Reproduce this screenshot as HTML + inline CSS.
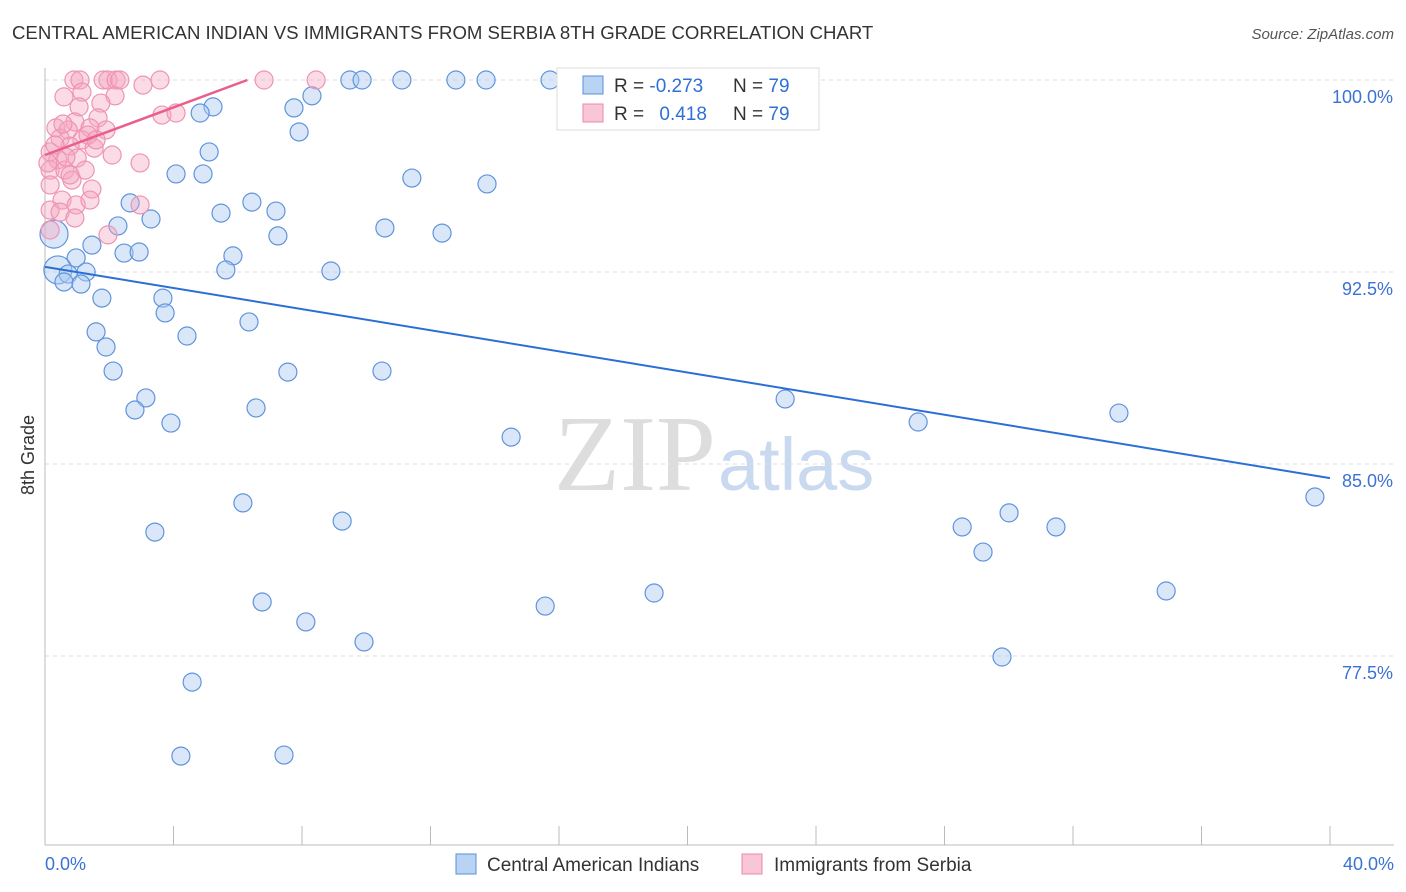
<!DOCTYPE html>
<html><head><meta charset="utf-8"><style>
body{margin:0;background:#fff;font-family:"Liberation Sans",sans-serif}
svg{display:block}
</style></head><body>
<svg id="chart" width="1406" height="892">
<text x="12" y="39" font-size="18.6" fill="#333">CENTRAL AMERICAN INDIAN VS IMMIGRANTS FROM SERBIA 8TH GRADE CORRELATION CHART</text>
<text x="1394" y="39" font-size="15" fill="#555" font-style="italic" text-anchor="end">Source: ZipAtlas.com</text>
<text x="716" y="490" font-size="108" fill="#ddd" font-family="Liberation Serif,serif" text-anchor="end">ZIP</text>
<text x="718" y="490" font-size="74" fill="#c9d9ef">atlas</text>
<text x="34" y="455" font-size="18" fill="#333" transform="rotate(-90 34 455)" text-anchor="middle">8th Grade</text>
<g id="grid"></g><g id="pts"></g><g id="lines"></g>
<g>
<rect x="557" y="68" width="262" height="62" fill="#fff" stroke="#ddd"/>
<rect x="583" y="76" width="20" height="18" fill="#b9d3f5" stroke="#5a8fd8"/>
<rect x="583" y="104" width="20" height="18" fill="#f9c6d6" stroke="#e88aa8"/>
<text x="614" y="92" font-size="19" fill="#333">R = <tspan fill="#2f6fd6">-0.273</tspan></text>
<text x="733" y="92" font-size="19" fill="#333">N = <tspan fill="#2f6fd6">79</tspan></text>
<text x="614" y="120" font-size="19" fill="#333">R = <tspan fill="#2f6fd6" dx="10">0.418</tspan></text>
<text x="733" y="120" font-size="19" fill="#333">N = <tspan fill="#2f6fd6">79</tspan></text>
</g>
<g>
<rect x="456" y="854" width="20" height="20" fill="#b9d3f5" stroke="#5a8fd8"/>
<text x="487" y="871" font-size="19" fill="#333">Central American Indians</text>
<rect x="742" y="854" width="20" height="20" fill="#f9c6d6" stroke="#e88aa8"/>
<text x="774" y="871" font-size="19" fill="#333">Immigrants from Serbia</text>
</g>
</svg>
<script>
const yTicks=[100,92.5,85,77.5];
const xTickLabels=["0.0%","40.0%"];
const blueX=[9.49,9.87,11.11,12.79,13.73,15.72,17.40,18.15,22.26,8.31,5.23,4.83,7.75,7.91,5.11,4.08,4.92,11.42,13.76,2.65,6.44,5.48,7.19,3.30,2.27,10.58,7.25,12.36,0.28,1.46,2.46,2.93,5.85,0.97,0.40,1.28,5.63,8.90,0.72,0.59,1.12,1.77,3.67,3.74,6.35,1.59,4.42,1.90,2.12,7.56,10.49,3.14,2.80,6.57,23.04,33.43,3.92,27.18,14.51,39.53,6.16,9.25,3.42,28.55,30.01,31.47,29.20,34.90,6.76,15.57,18.96,8.12,9.93,29.79,4.58,4.23,7.44];
const blueY=[100,100,100,100,100,100,100,100,100,99.38,98.95,98.71,98.91,97.97,97.19,96.33,96.33,96.17,95.94,95.20,95.23,94.80,94.88,94.57,94.30,94.22,93.91,94.02,93.98,93.55,93.24,93.28,93.13,93.05,92.58,92.50,92.58,92.54,92.42,92.11,92.03,91.48,91.48,90.90,90.55,90.16,90.00,89.57,88.63,88.59,88.63,87.58,87.11,87.19,87.54,86.99,86.60,86.64,86.05,83.71,83.48,82.77,82.34,82.54,83.09,82.54,81.56,80.04,79.61,79.45,79.96,78.83,78.05,77.46,76.48,73.59,73.63];
const pinkX=[0.90,1.09,1.81,1.96,2.21,2.33,3.58,6.82,8.44,3.05,1.15,2.18,0.59,1.74,1.06,3.64,4.08,0.93,1.65,0.34,0.72,1.40,1.90,0.47,1.15,0.78,1.53,2.09,0.16,0.40,1.00,2.96,0.16,0.62,1.25,0.84,0.16,1.46,0.53,0.97,1.40,2.96,0.16,0.47,0.93,1.96,0.16,0.09,0.31,0.65,1.34,0.56,0.78,1.59];
const pinkY=[100,100,100,100,100,100,100,100,100,99.80,99.53,99.38,99.34,99.10,98.95,98.63,98.71,98.36,98.52,98.13,98.05,98.13,98.05,97.73,97.66,97.42,97.34,97.07,97.19,96.88,96.95,96.76,96.48,96.48,96.48,96.09,95.90,95.74,95.31,95.12,95.31,95.12,94.92,94.84,94.61,93.95,94.14,96.76,97.46,96.99,97.85,98.28,96.29,97.66];
const blueTrend=[0,92.70,40,84.45];
const pinkTrend=[0,97.07,6.3,100];
const X=v=>45+v/40*1285, Y=v=>80+(100-v)/7.5*192;
const NS="http://www.w3.org/2000/svg";
function mk(tag,attrs,parent){const e=document.createElementNS(NS,tag);for(const k in attrs)e.setAttribute(k,attrs[k]);parent.appendChild(e);return e;}
const grid=document.getElementById('grid'),pts=document.getElementById('pts'),lines=document.getElementById('lines');
yTicks.forEach(t=>{
 const l=mk('line',{x1:45,x2:1394,y1:Y(t),y2:Y(t),stroke:'#ddd','stroke-dasharray':'4 4'},grid);
 
 
 const tx=mk('text',{x:1393,y:Y(t)+23,'font-size':18,fill:'#3a72d4','text-anchor':'end'},grid);
 tx.textContent=t.toFixed(1)+'%';
 
 
});
const ax=mk('line',{x1:45,x2:45,y1:68,y2:845,stroke:'#bbb'},grid);


const bx=mk('line',{x1:45,x2:1394,y1:845,y2:845,stroke:'#bbb'},grid);


for(let i=0;i<=10;i++){const t=mk('line',{x1:X(i*4),x2:X(i*4),y1:826,y2:845,stroke:'#bbb'},grid);
 
 }
[[0,'start',45],[40,'end',1394]].forEach((d,i)=>{const t=mk('text',{x:d[2],y:870,'font-size':18,fill:'#3a72d4','text-anchor':d[1]},grid);t.textContent=xTickLabels[i];
 
 });
blueX.forEach((v,i)=>{const big=(i===28||i===34);const c=mk('circle',{cx:X(v),cy:Y(blueY[i]),r:big?14:9,fill:'rgba(170,202,242,0.45)',stroke:'#6094dc','stroke-width':1.2},pts);
 
 });
pinkX.forEach((v,i)=>{const c=mk('circle',{cx:X(v),cy:Y(pinkY[i]),r:9,fill:'rgba(244,165,192,0.4)',stroke:'#ee94b2','stroke-width':1.2},pts);
 
 });
const bl=mk('line',{x1:X(blueTrend[0]),y1:Y(blueTrend[1]),x2:X(blueTrend[2]),y2:Y(blueTrend[3]),stroke:'#2a6fd6','stroke-width':2},lines);


const pl=mk('line',{x1:X(pinkTrend[0]),y1:Y(pinkTrend[1]),x2:X(pinkTrend[2]),y2:Y(pinkTrend[3]),stroke:'#e8608a','stroke-width':2.5},lines);


</script>
</body></html>
